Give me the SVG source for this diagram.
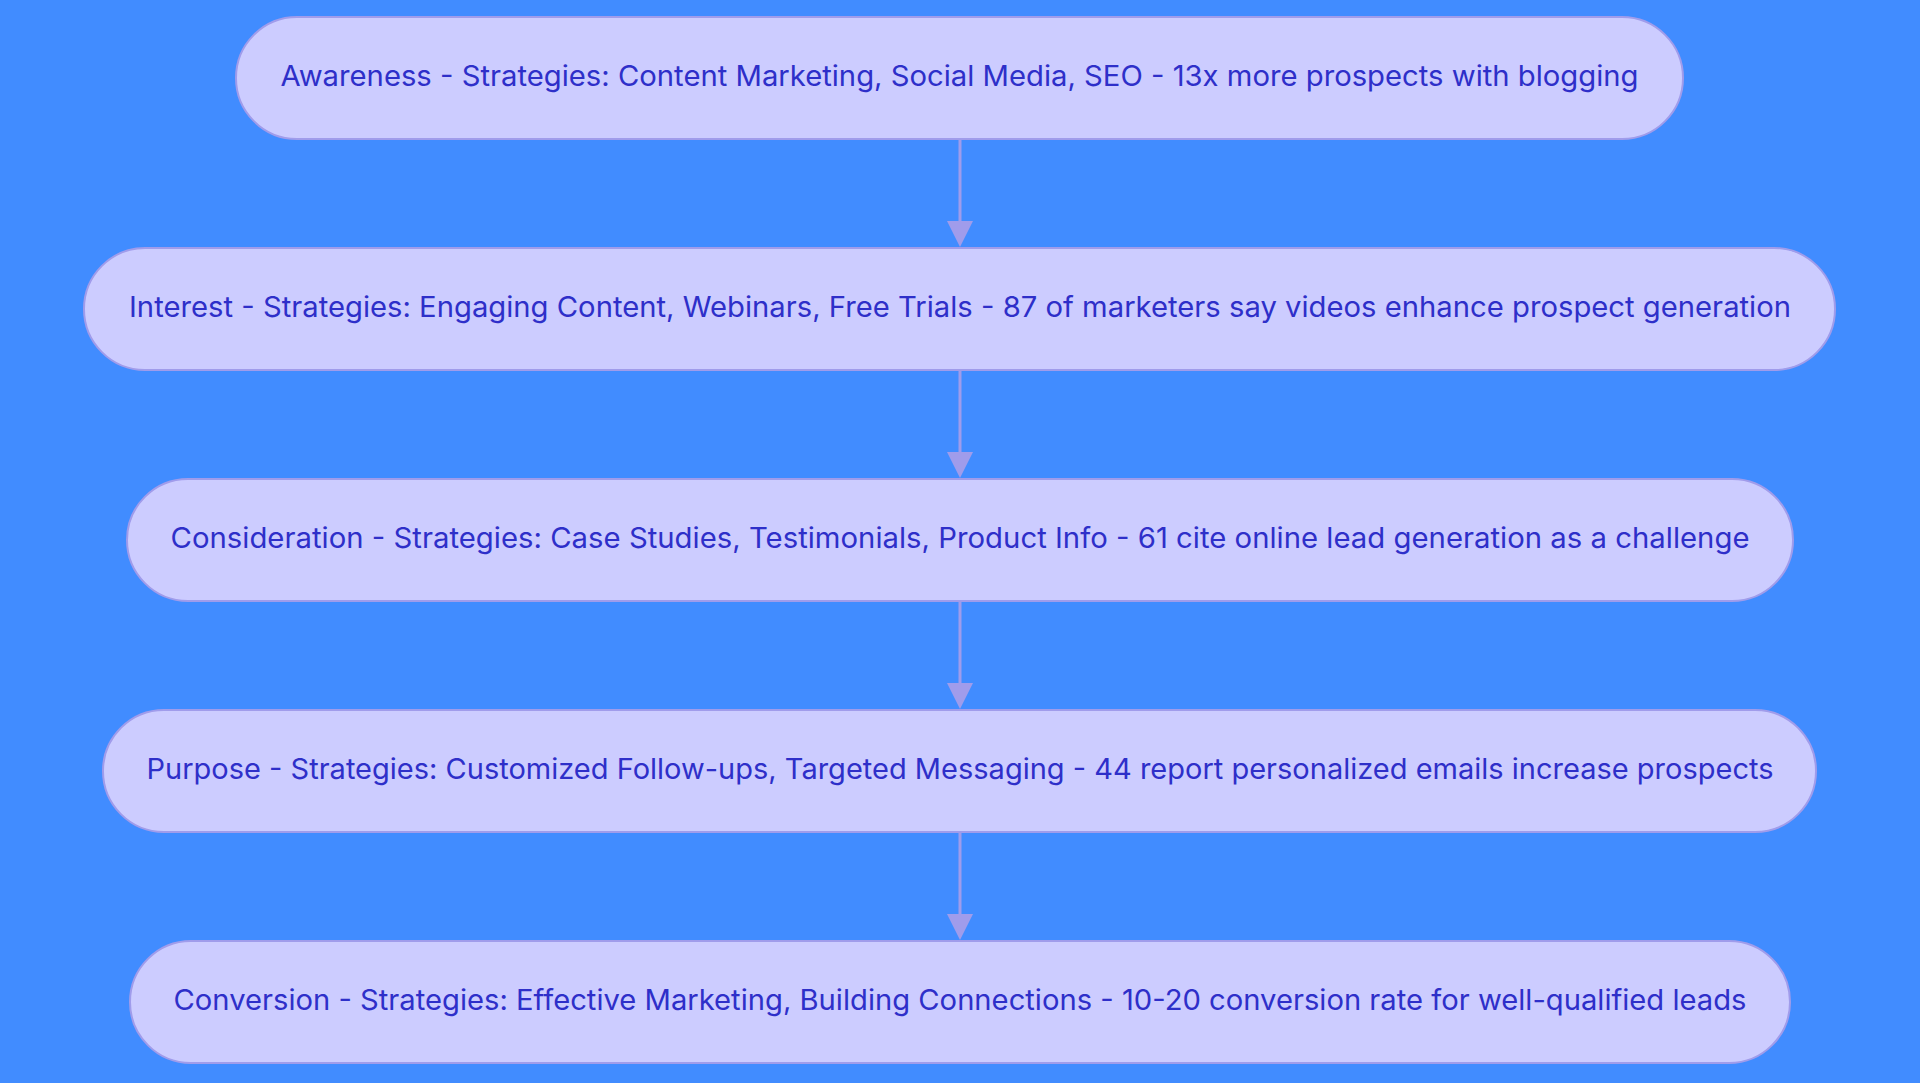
<svg xmlns="http://www.w3.org/2000/svg" width="1920" height="1083" viewBox="0 0 1920 1083">
<style>
.node rect{fill:#CCCCFF;stroke:#A09CEB;stroke-width:2}
.node text{font-family:Inter,"Noto Sans","Liberation Sans",sans-serif;font-size:28.5px;fill:#2E2FC9;text-anchor:middle;dominant-baseline:central}
.edge{stroke:#A09CEB;stroke-width:3;fill:none}
.head{fill:#A09CEB}
</style>
<rect width="1920" height="1083" fill="#418CFF"/>
<g id="connectors">
<line class="edge" x1="960" y1="139" x2="960" y2="221"/>
<path class="head" d="M947,221 L973,221 L960,247 Z"/>
<line class="edge" x1="960" y1="370" x2="960" y2="452"/>
<path class="head" d="M947,452 L973,452 L960,478 Z"/>
<line class="edge" x1="960" y1="601" x2="960" y2="683"/>
<path class="head" d="M947,683 L973,683 L960,709 Z"/>
<line class="edge" x1="960" y1="832" x2="960" y2="914"/>
<path class="head" d="M947,914 L973,914 L960,940 Z"/>
</g>
<g id="awareness" class="node">
<rect x="236" y="17" width="1447" height="122" rx="61" ry="61"/>
<text x="959.5" y="75.5" textLength="1358" lengthAdjust="spacingAndGlyphs">Awareness - Strategies: Content Marketing, Social Media, SEO - 13x more prospects with blogging</text>
</g>
<g id="interest" class="node">
<rect x="84" y="248" width="1751" height="122" rx="61" ry="61"/>
<text x="960" y="306.5" textLength="1662" lengthAdjust="spacingAndGlyphs">Interest - Strategies: Engaging Content, Webinars, Free Trials - 87 of marketers say videos enhance prospect generation</text>
</g>
<g id="consideration" class="node">
<rect x="127" y="479" width="1666" height="122" rx="61" ry="61"/>
<text x="960" y="537.5" textLength="1579" lengthAdjust="spacingAndGlyphs">Consideration - Strategies: Case Studies, Testimonials, Product Info - 61 cite online lead generation as a challenge</text>
</g>
<g id="purpose" class="node">
<rect x="103" y="710" width="1713" height="122" rx="61" ry="61"/>
<text x="960" y="768.5" textLength="1627" lengthAdjust="spacingAndGlyphs">Purpose - Strategies: Customized Follow-ups, Targeted Messaging - 44 report personalized emails increase prospects</text>
</g>
<g id="conversion" class="node">
<rect x="130" y="941" width="1660" height="122" rx="61" ry="61"/>
<text x="960" y="999.5" textLength="1573" lengthAdjust="spacingAndGlyphs">Conversion - Strategies: Effective Marketing, Building Connections - 10-20 conversion rate for well-qualified leads</text>
</g>
</svg>
